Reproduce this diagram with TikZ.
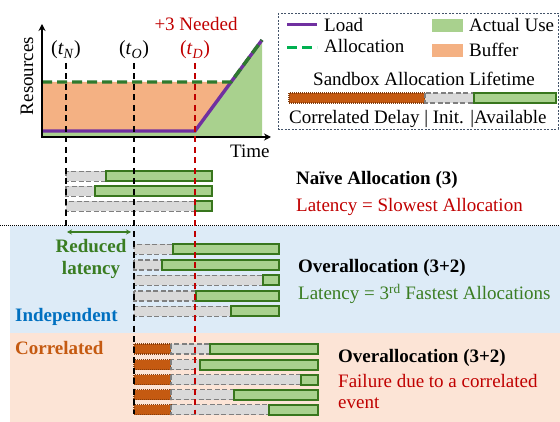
\documentclass[tikz,border=0pt]{standalone}
\usepackage{fontspec}
\setmainfont{Liberation Serif}
\usetikzlibrary{arrows.meta}

\definecolor{loadpurple}{HTML}{7030A0}
\definecolor{allocgreen}{HTML}{2E7A2E}
\definecolor{legalloc}{HTML}{00B050}
\definecolor{bufferorange}{HTML}{F4B183}
\definecolor{usegreen}{HTML}{A9D18E}
\definecolor{bargreenline}{HTML}{38761D}
\definecolor{initgray}{HTML}{D9D9D9}
\definecolor{initline}{HTML}{7F7F7F}
\definecolor{delayfill}{HTML}{C55A11}
\definecolor{delayline}{HTML}{843C0C}
\definecolor{bandblue}{HTML}{DDEBF7}
\definecolor{bandorange}{HTML}{FCE4D6}
\definecolor{alertred}{HTML}{C00000}
\definecolor{okgreen}{HTML}{3A7D22}
\definecolor{indblue}{HTML}{0070C0}
\definecolor{legframe}{HTML}{44546A}

\newcommand{\tmark}[1]{(\textit{t}\textsubscript{\textit{#1}})}

\tikzset{
  txt/.style={font=\fontsize{19}{22}\selectfont, inner sep=0pt},
  boldtxt/.style={txt, font=\fontsize{19}{22}\selectfont\bfseries},
  availbar/.style={draw=bargreenline, fill=usegreen, line width=2pt},
  initbar/.style={draw=initline, fill=initgray, line width=1.8pt, dash pattern=on 5pt off 2.5pt},
  delaybar/.style={draw=delayline, fill=delayfill, line width=1.4pt, dash pattern=on 1pt off 1pt},
  guide/.style={line width=2pt, dash pattern=on 6pt off 4.5pt},
  axisline/.style={line width=2pt, -{Stealth[length=7pt,width=7pt]}},
}

\begin{document}
\begin{tikzpicture}[x=1pt,y=-1pt]
\useasboundingbox (0,0) rectangle (560,422);

% ---------- background bands ----------
\fill[bandblue] (10,226) rectangle (560,333);
\fill[bandorange] (10,333) rectangle (560,422);
\draw[line width=0.9pt, dash pattern=on 1pt off 1pt] (0,225) -- (560,225);

% ---------- resource chart ----------
\fill[usegreen] (42,137) -- (42,131) -- (195,131) -- (262,40) -- (262,137) -- cycle;
\fill[bufferorange] (42,82) -- (231,82) -- (195,131) -- (42,131) -- cycle;
\draw[loadpurple, line width=3.4pt] (42,131) -- (195,131) -- (262,40);
\draw[allocgreen, line width=3.4pt, dash pattern=on 10pt off 5pt] (42,82) -- (231,82) -- (262,40);
\draw[axisline] (42,137) -- (42,24);
\draw[axisline] (41,137) -- (271,137);

\node[txt, rotate=90] (ylab) at (27,76) {Resources};
\node[txt, anchor=base west] (xlab) at (230,158) {Time};
\node[txt, anchor=base, text=alertred] (needed) at (196,31) {+3 Needed};
\node[txt, anchor=base, font=\fontsize{20}{22}\selectfont] (tN) at (66,55) {\tmark{N}};
\node[txt, anchor=base, font=\fontsize{20}{22}\selectfont] (tO) at (134,55) {\tmark{O}};
\node[txt, anchor=base, font=\fontsize{20}{22}\selectfont, text=alertred] (tD) at (195,55) {\tmark{D}};

% ---------- legend ----------
\draw[legframe, line width=0.8pt, dash pattern=on 2pt off 1.5pt] (278,13) rectangle (558,129);
\coordinate (lgLoadA) at (287,25);  \coordinate (lgLoadB) at (317,25);
\coordinate (lgAllA) at (287,48);   \coordinate (lgAllB) at (317,48);
\draw[loadpurple, line width=3pt] (lgLoadA) -- (lgLoadB);
\draw[legalloc, line width=3pt, dash pattern=on 10pt off 5pt] (lgAllA) -- (lgAllB);
\node[txt, anchor=base west] (lgLoad) at (324,32) {Load};
\node[txt, anchor=base west] (lgAlloc) at (324,53) {Allocation};
\fill[usegreen] (432,19) rectangle (463,32);
\fill[bufferorange] (432,44) rectangle (463,57);
\node[txt, anchor=base west] (lgUse) at (469,32) {Actual Use};
\node[txt, anchor=base west] (lgBuf) at (469,57) {Buffer};
\node[txt, anchor=base] (lgTitle) at (424,86) {Sandbox Allocation Lifetime};
\draw[delaybar] (289,93) rectangle (425,103);
\draw[initbar] (425,93) rectangle (474,103);
\draw[availbar] (474,93) rectangle (556,103);
\node[txt, anchor=base west] (lgParts) at (289,124) {Correlated Delay | Init. |Available};

% ---------- naive allocation ----------
\foreach \y/\g in {176.5/106, 191.5/95, 206.5/195} {
  \draw[initbar] (66,\y-5) rectangle (\g,\y+5);
  \draw[availbar] (\g,\y-5) rectangle (212,\y+5);
}
\node[boldtxt, anchor=base west] (naiveHead) at (296,185) {Naïve Allocation (3)};
\node[txt, anchor=base west, text=alertred] (naiveNote) at (296,212) {Latency = Slowest Allocation};

% ---------- independent overallocation ----------
\foreach \y/\g in {249.5/173, 265/162, 280.5/263, 296/196, 311.5/231} {
  \draw[initbar] (134,\y-5) rectangle (\g,\y+5);
  \draw[availbar] (\g,\y-5) rectangle (279,\y+5);
}
\node[boldtxt, anchor=base west] (indHead) at (298,273) {Overallocation (3+2)};
\node[txt, anchor=base west, text=okgreen] (indNote) at (298,300) {Latency = 3\textsuperscript{rd} Fastest Allocations};
\node[boldtxt, anchor=base, text=okgreen] (redA) at (91,253) {Reduced};
\node[boldtxt, anchor=base, text=okgreen] (redB) at (91,275) {latency};
\node[boldtxt, anchor=base west, text=indblue] (indLab) at (15,322) {Independent};
\coordinate (gainL) at (67,232);
\coordinate (gainR) at (131,232);
\draw[okgreen, line width=1.4pt, {Stealth[length=5pt,width=5pt]}-{Stealth[length=5pt,width=5pt]}] (gainL) -- (gainR);

% ---------- correlated overallocation ----------
\foreach \y/\g in {349/210, 364.5/200, 379.5/301, 394.5/234, 409.5/269} {
  \draw[delaybar] (134,\y-5) rectangle (171,\y+5);
  \draw[initbar] (171,\y-5) rectangle (\g,\y+5);
  \draw[availbar] (\g,\y-5) rectangle (318,\y+5);
}
\node[boldtxt, anchor=base west] (corHead) at (338,362) {Overallocation (3+2)};
\node[txt, anchor=base west, text=alertred] (corNoteA) at (338,387) {Failure due to a correlated};
\node[txt, anchor=base west, text=alertred] (corNoteB) at (338,408) {event};
\node[boldtxt, anchor=base west, text=delayfill] (corLab) at (15,355) {Correlated};

% ---------- time markers ----------
\coordinate (tNtop) at (66,63);  \coordinate (tNbot) at (66,228);
\coordinate (tOtop) at (134,63); \coordinate (tObot) at (134,414);
\coordinate (tDtop) at (195,63); \coordinate (tDbot) at (195,414);
\draw[guide, black] (tNtop) -- (tNbot);
\draw[guide, black] (tOtop) -- (tObot);
\draw[guide, alertred] (tDtop) -- (tDbot);
\end{tikzpicture}
\end{document}
